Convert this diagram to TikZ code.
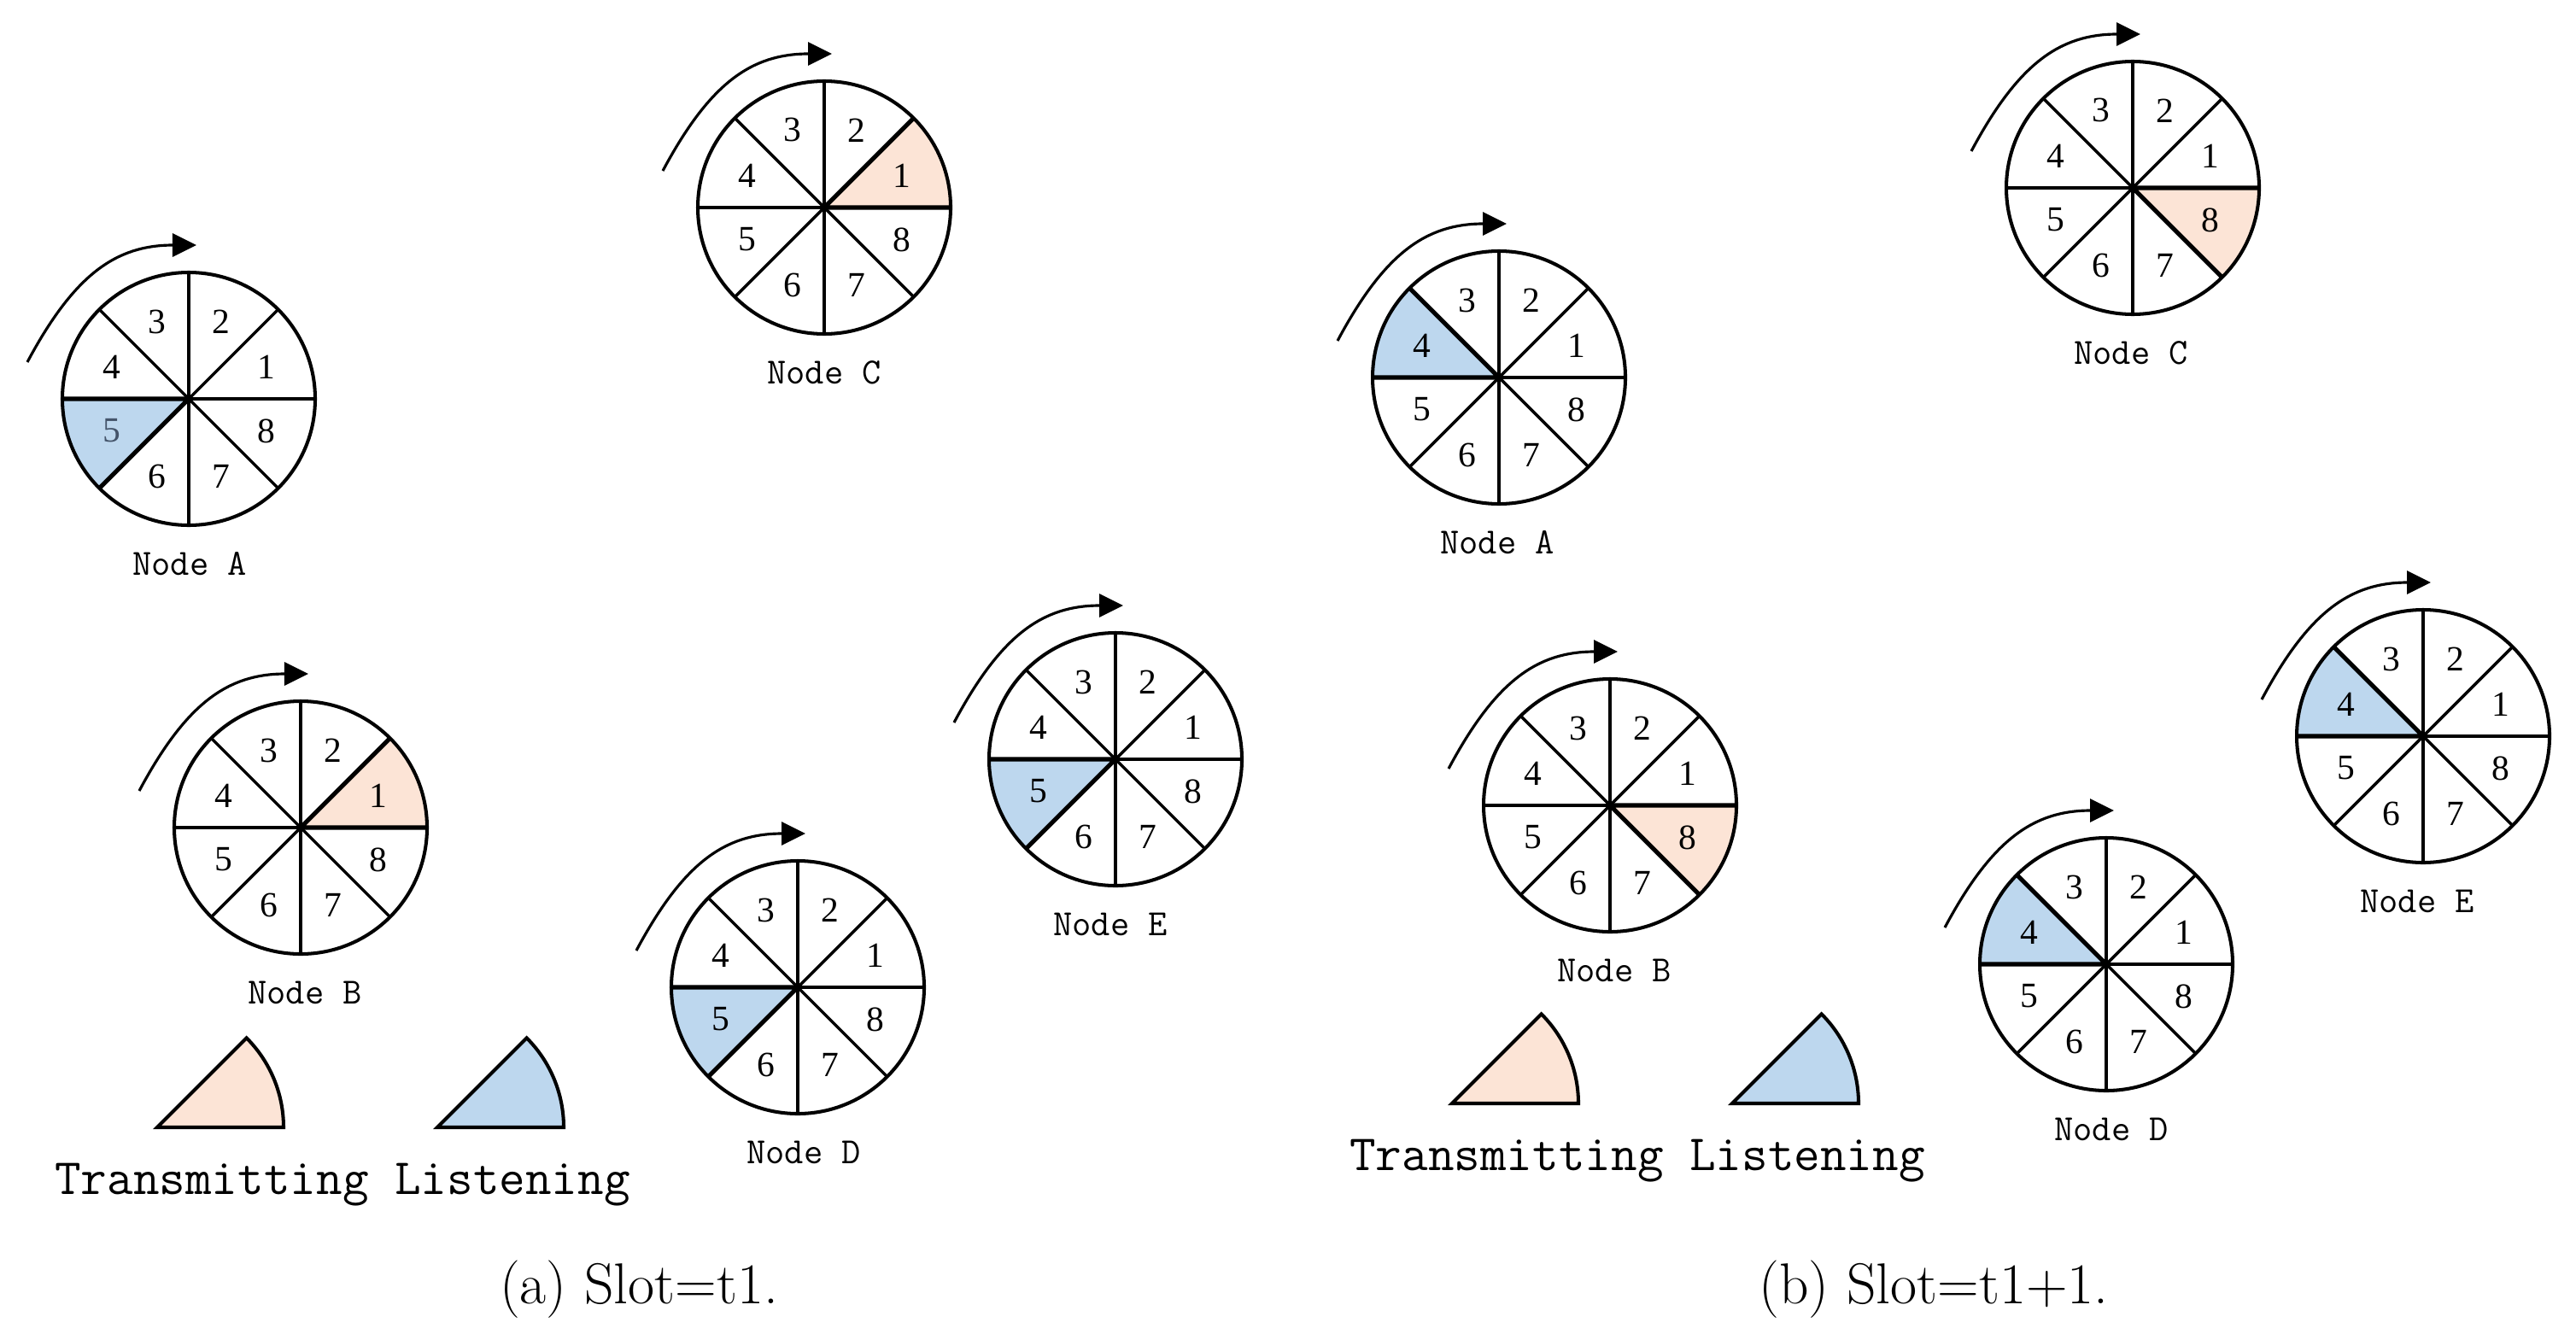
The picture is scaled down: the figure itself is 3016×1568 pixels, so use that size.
\documentclass[tikz,border=0pt]{standalone}
\usepackage{fontspec}
\newfontfamily\digitfont{Liberation Serif}
\usetikzlibrary{arrows.meta,calc}
\definecolor{peach}{RGB}{252,228,214}
\definecolor{lblue}{RGB}{189,215,238}
\definecolor{dimblue}{RGB}{68,84,106}
\tikzset{
  rim/.style={line width=1.15pt},
  spoke/.style={line width=1pt},
  hledge/.style={line width=1.45pt, line join=round},
  digit/.style={font=\digitfont\fontsize{11.8}{12}\selectfont, inner sep=0pt},
  wlabel/.style={font=\fontsize{12.3}{13}\ttfamily, inner sep=0pt},
  rotarrow/.style={line width=0.9pt, -{Triangle[length=0.28cm,width=0.27cm]}},
  legwedge/.style={line width=1.15pt, line join=miter},
  legtext/.style={font=\fontsize{16.9}{18}\ttfamily, inner sep=0pt, anchor=base},
  capt/.style={font=\fontsize{19.2}{22}\selectfont, inner sep=0pt},
}
% #1 name, #2 x, #3 y, #4 highlighted sector, #5 fill colour,
% #6 label letter, #7 label x offset, #8 colour of highlighted digit
\newcommand{\wheel}[8]{%
  \begin{scope}[shift={(#2,#3)}]
    \coordinate (#1) at (0,0);
    \fill[#5] (0,0) -- ({(#4-1)*45}:148) arc[start angle={(#4-1)*45}, end angle={#4*45}, radius=148] -- cycle;
    \foreach \a in {0,45,...,315} \draw[spoke] (0,0) -- (\a:148);
    \draw[hledge] ({(#4-1)*45}:148) -- (0,0) -- ({#4*45}:148);
    \draw[rim] (0,0) circle[radius=148];
    \foreach \k in {1,...,8} {%
      \ifnum\k=#4 \def\dc{#8}\else\def\dc{black}\fi
      \node[digit, text=\dc] (#1-\k) at ({(\k-0.5)*45}:98) {\k};
    }
    \node[wlabel] (#1-l) at (#7,-193) {Node #6};
    \draw[rotarrow] (-189,43) .. controls (-134,146) and (-85,180) .. (9,180);
  \end{scope}}
\begin{document}
\begin{tikzpicture}[x=0.01cm,y=0.01cm]
  \useasboundingbox (0,0) rectangle (3016,1568);
  % ---------- panel (a) ----------
  \wheel{aA}{221}{1101}{5}{lblue}{A}{1}{dimblue}
  \wheel{aC}{965}{1325}{1}{peach}{C}{0}{black}
  \wheel{aB}{352}{599}{1}{peach}{B}{5}{black}
  \wheel{aD}{934}{412}{5}{lblue}{D}{7}{black}
  \wheel{aE}{1306}{679}{5}{lblue}{E}{-6}{black}
  % legend (a)
  \coordinate (aT) at (184,248);
  \coordinate (aL) at (512,248);
  \filldraw[legwedge, fill=peach] (aT) -- ++(148,0) arc[start angle=0, end angle=45, radius=148] -- cycle;
  \filldraw[legwedge, fill=lblue] (aL) -- ++(148,0) arc[start angle=0, end angle=45, radius=148] -- cycle;
  \node[legtext] (aleg) at (401,170) {Transmitting Listening};
  \node[capt] (acap) at (748,58) {(a) Slot=t1.};
  % ---------- panel (b) ----------
  \wheel{bA}{1755}{1126}{4}{lblue}{A}{-2}{black}
  \wheel{bC}{2497}{1348}{8}{peach}{C}{-2}{black}
  \wheel{bB}{1885}{625}{8}{peach}{B}{5}{black}
  \wheel{bD}{2466}{439}{4}{lblue}{D}{6}{black}
  \wheel{bE}{2837}{706}{4}{lblue}{E}{-7}{black}
  % legend (b)
  \coordinate (bT) at (1700,276);
  \coordinate (bL) at (2028,276);
  \filldraw[legwedge, fill=peach] (bT) -- ++(148,0) arc[start angle=0, end angle=45, radius=148] -- cycle;
  \filldraw[legwedge, fill=lblue] (bL) -- ++(148,0) arc[start angle=0, end angle=45, radius=148] -- cycle;
  \node[legtext] (bleg) at (1917,198) {Transmitting Listening};
  \node[capt] (bcap) at (2264,58) {(b) Slot=t1+1.};
\end{tikzpicture}
\end{document}
